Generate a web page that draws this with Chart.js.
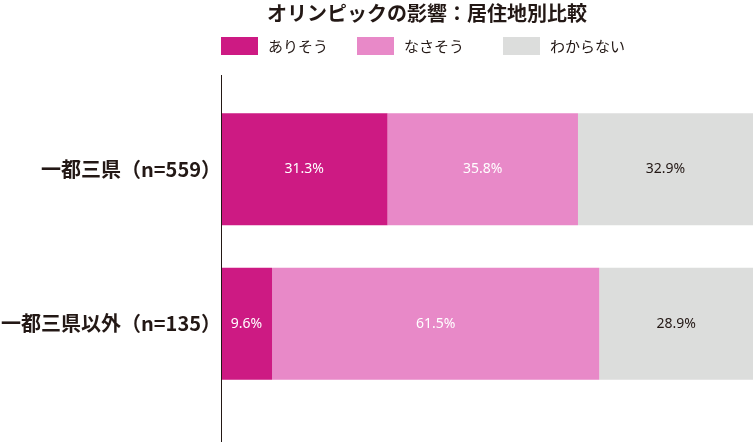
<!DOCTYPE html>
<html>
<head>
<meta charset="utf-8">
<script src="https://cdn.jsdelivr.net/npm/chart.js@4"></script>
<style>
  html, body { margin: 0; padding: 0; background: #fff; }
  #wrap { width: 753px; height: 442px; position: relative; }
</style>
</head>
<body>
<div id="wrap"><canvas id="chart" width="753" height="442"></canvas></div>
<script>
// データ
const chartTitle = 'オリンピックの影響：居住地別比較';
const categories = ['一都三県（n=559）', '一都三県以外（n=135）'];
const seriesNames = ['ありそう', 'なさそう', 'わからない'];
const ariSou = [31.3, 9.6];
const nasaSou = [35.8, 61.5];
const wakaranai = [32.9, 28.9];
const seriesColors = ['#cd1a83', '#e889c8', '#dcdddc'];
const labelColors = ['#ffffff', '#ffffff', '#231815'];

const JP = '"Noto Sans CJK JP", "Noto Sans", sans-serif';
const TEXT = '#231815';

// タイトル・凡例・軸線・値ラベルを描く
const decorPlugin = {
    id: 'decor',
    afterDraw(chart) {
        const ctx = chart.ctx;
        const area = chart.chartArea;
        ctx.save();

        // タイトル
        ctx.fillStyle = TEXT;
        ctx.font = 'bold 20px ' + JP;
        ctx.textAlign = 'center';
        ctx.textBaseline = 'middle';
        ctx.fillText(chartTitle, 427, 13);

        // 凡例
        const legendX = [221, 357, 503];
        ctx.font = '15px ' + JP;
        ctx.textAlign = 'left';
        seriesNames.forEach((name, i) => {
            ctx.fillStyle = seriesColors[i];
            ctx.fillRect(legendX[i], 37, 37, 18);
            ctx.fillStyle = TEXT;
            ctx.fillText(name, legendX[i] + 47, 46);
        });

        // 縦軸線
        ctx.strokeStyle = TEXT;
        ctx.lineWidth = 1;
        ctx.beginPath();
        ctx.moveTo(area.left + 0.5, 75);
        ctx.lineTo(area.left + 0.5, chart.height);
        ctx.stroke();

        // 値ラベル
        ctx.font = '14px "Noto Sans", sans-serif';
        ctx.textAlign = 'center';
        chart.data.datasets.forEach((ds, i) => {
            const meta = chart.getDatasetMeta(i);
            meta.data.forEach((bar, j) => {
                const cx = (bar.x + bar.base) / 2;
                ctx.fillStyle = labelColors[i];
                ctx.fillText(ds.data[j].toFixed(1) + '%', cx, bar.y);
            });
        });
        ctx.restore();
    }
};

new Chart(document.getElementById('chart'), {
    type: 'bar',
    data: {
        labels: categories,
        datasets: [
            { label: seriesNames[0], data: ariSou, backgroundColor: seriesColors[0] },
            { label: seriesNames[1], data: nasaSou, backgroundColor: seriesColors[1] },
            { label: seriesNames[2], data: wakaranai, backgroundColor: seriesColors[2] }
        ]
    },
    options: {
        indexAxis: 'y',
        responsive: false,
        animation: false,
        devicePixelRatio: 1,
        layout: { padding: { top: 92, bottom: 41, left: 0, right: 0 } },
        datasets: {
            bar: { barPercentage: 0.725, categoryPercentage: 1, borderWidth: 0 }
        },
        plugins: {
            legend: { display: false },
            title: { display: false },
            tooltip: { enabled: false }
        },
        scales: {
            x: { stacked: true, min: 0, max: 100, display: false },
            y: {
                stacked: true,
                grid: { display: false, drawTicks: false },
                border: { display: false },
                ticks: {
                    padding: 0,
                    color: TEXT,
                    font: { family: JP, size: 20, weight: 'bold' }
                },
                afterFit(scale) { scale.width = 221; }
            }
        }
    },
    plugins: [decorPlugin]
});
</script>
</body>
</html>
